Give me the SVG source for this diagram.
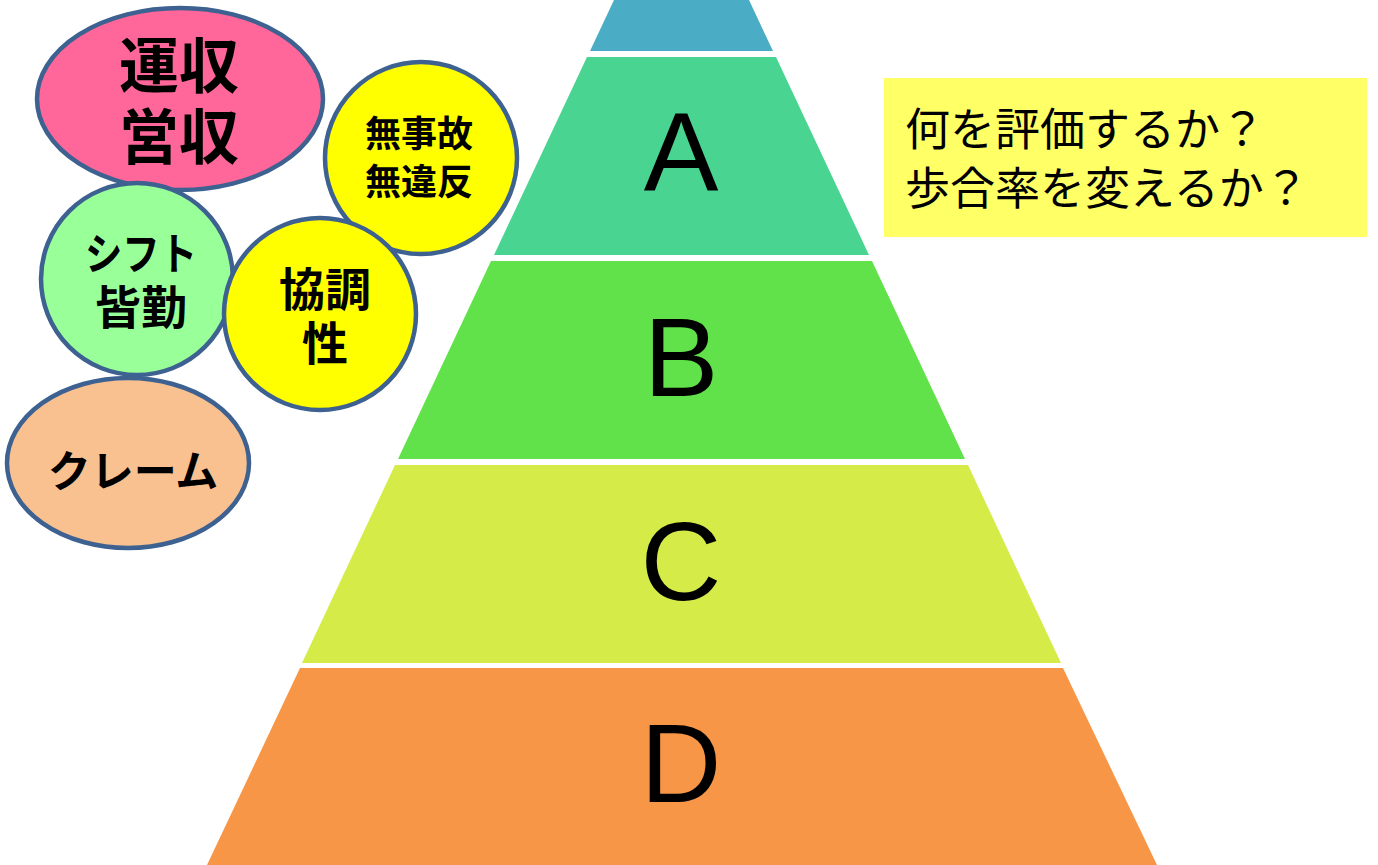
<svg xmlns="http://www.w3.org/2000/svg" width="1378" height="865" viewBox="0 0 1378 865">
<style>
.lay{stroke:none}
.big{font-family:"Liberation Sans",Arial,sans-serif;font-size:112px;fill:#000;text-anchor:middle}
.bub{stroke:#3D6190;stroke-width:4.5}
.jb{font-family:"Noto Sans CJK JP","Noto Sans CJK SC",sans-serif;font-weight:bold;fill:#000;text-anchor:middle}
.jn{font-family:"Noto Sans CJK JP","Noto Sans CJK SC",sans-serif;font-size:45px;fill:#000}
</style>
<rect width="1378" height="865" fill="#fff"/>
<g id="layer-top">
<polygon class="lay" fill="#4BACC6" points="614,0 749,0 773,51 590,51"/>
</g>
<g id="layer-A">
<polygon class="lay" fill="#4AD492" points="587,57 776,57 869,255 494,255"/>
<text class="big" x="681" y="190">A</text>
</g>
<g id="layer-B">
<polygon class="lay" fill="#62E24A" points="491,261 872,261 965,459 398,459"/>
<text class="big" x="681" y="396">B</text>
</g>
<g id="layer-C">
<polygon class="lay" fill="#D5EB48" points="395,465 968,465 1061,663 302,663"/>
<text class="big" x="681" y="600">C</text>
</g>
<g id="layer-D">
<polygon class="lay" fill="#F79646" points="300,668 1063,668 1157,865 207,865"/>
<text class="big" x="681" y="802">D</text>
</g>
<g id="bubble-unshu">
<ellipse class="bub" cx="180" cy="99" rx="143" ry="91" fill="#FF6699"/>
<text class="jb" font-size="60"><tspan x="179" y="88">運収</tspan><tspan x="179" y="159">営収</tspan></text>
</g>
<g id="bubble-mujiko">
<circle class="bub" cx="421" cy="158" r="96" fill="#FFFF00"/>
<text class="jb" font-size="36"><tspan x="419" y="147">無事故</tspan><tspan x="419" y="195">無違反</tspan></text>
</g>
<g id="bubble-shift">
<circle class="bub" cx="137" cy="279" r="96" fill="#99FF99"/>
<text class="jb" font-size="46"><tspan x="141" y="270" font-size="44" textLength="112" lengthAdjust="spacingAndGlyphs">シフト</tspan><tspan x="141" y="324">皆勤</tspan></text>
</g>
<g id="bubble-kyocho">
<circle class="bub" cx="320" cy="314" r="96" fill="#FFFF00"/>
<text class="jb" font-size="46"><tspan x="325" y="306">協調</tspan><tspan x="325" y="360">性</tspan></text>
</g>
<g id="bubble-claim">
<ellipse class="bub" cx="128" cy="463" rx="121" ry="85" fill="#F9C090"/>
<text class="jb" x="133" y="487" font-size="43">クレーム</text>
</g>
<g id="question-box">
<rect x="884" y="78" width="483" height="159" fill="#FFFF66"/>
<text class="jn"><tspan x="905" y="146">何を評価するか？</tspan><tspan x="905" y="205">歩合率を変えるか？</tspan></text>
</g>
<g id="connectors"></g>
</svg>
